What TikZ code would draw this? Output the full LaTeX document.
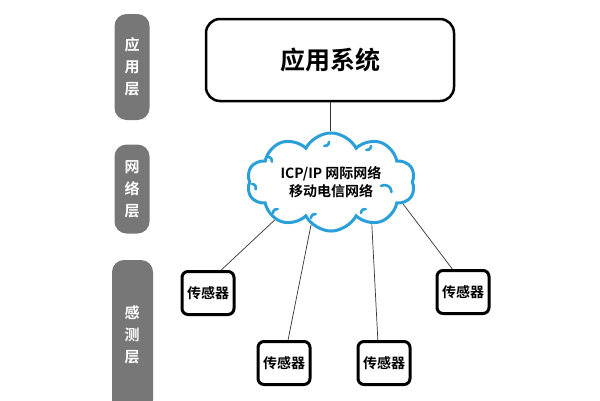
\documentclass[tikz,border=0pt]{standalone}
\usepackage{fontspec}
\newfontfamily\cjk{Noto Sans CJK SC}[BoldFont={Noto Sans CJK SC Bold}]
\usetikzlibrary{shapes.symbols}
\definecolor{bargray}{HTML}{777777}
\definecolor{cloudblue}{HTML}{2B9FD8}
\begin{document}
\begin{tikzpicture}[x=1pt,y=-1pt,
  layerbar/.style={fill=bargray, draw=none, rounded corners=12pt, text=white,
    font=\cjk\bfseries\fontsize{15}{22}\selectfont, align=center, inner sep=0pt},
  appbox/.style={draw=black, line width=2.5pt, rounded corners=14pt, fill=white,
    minimum width=248pt, minimum height=82pt, font=\cjk\bfseries\fontsize{25}{28}\selectfont},
  netcloud/.style={cloud, cloud puffs=10, cloud puff arc=125, aspect=1.9,
    draw=cloudblue, line width=3pt, fill=white, minimum width=168pt, minimum height=90pt,
    font=\cjk\bfseries\fontsize{14}{18}\selectfont, align=center, inner sep=0pt},
  curl/.style={draw=cloudblue, line width=2.6pt, line cap=round},
  sensor/.style={draw=black, line width=3pt, rounded corners=6pt, fill=white,
    minimum width=52pt, minimum height=43pt, inner sep=0pt,
    font=\cjk\bfseries\fontsize{14}{16}\selectfont},
  link/.style={draw=black!80, line width=0.7pt}]
\useasboundingbox (0,0) rectangle (600,400);
\fill[white] (0,0) rectangle (600,400);
% layer bars
\node[layerbar, minimum width=35pt, minimum height=106pt] (l1) at (132,67) {应\\用\\层};
\node[layerbar, minimum width=35pt, minimum height=89pt] (l2) at (132,189) {网\\络\\层};
\path[fill=bargray, rounded corners=12pt] (112,260) rectangle (153,412);
\node[layerbar, fill=none, minimum width=40pt, minimum height=60pt] (l3) at (132,335) {感\\测\\层};
% main nodes
\node[appbox] (app) at (330,60) {应用系统};
\node[netcloud] (net) at (331,182) {ICP/IP 网际网络\\移动电信网络};
\node[sensor] (s1) at (208,293) {传感器};
\node[sensor] (s2) at (284,363) {传感器};
\node[sensor] (s3) at (384,363) {传感器};
\node[sensor] (s4) at (463,292) {传感器};
% cloud curls
\draw[curl] (329,142) arc[start angle=0, end angle=-100, radius=4pt];
\draw[curl] (371,146) arc[start angle=0, end angle=-100, radius=4pt];
\draw[curl] (268,157) arc[start angle=90, end angle=-10, radius=4pt];
\draw[curl] (252,184) arc[start angle=90, end angle=-20, radius=4pt];
\draw[curl] (273,213) arc[start angle=180, end angle=80, radius=4pt];
\draw[curl] (311,218) arc[start angle=180, end angle=80, radius=4pt];
\draw[curl] (361,213) arc[start angle=180, end angle=80, radius=4pt];
\draw[curl] (381,186) arc[start angle=120, end angle=0, radius=7pt];
% connectors
\coordinate (nettop) at (app.south |- net.north);
\draw[link] (app.south) -- (nettop);
\draw[link] (net.214) -- (s1.60);
\draw[link] (net.245) -- (s2.80);
\draw[link] (net.314) -- (s3.105);
\draw[link] (net.343) -- (s4.115);
\end{tikzpicture}
\end{document}
